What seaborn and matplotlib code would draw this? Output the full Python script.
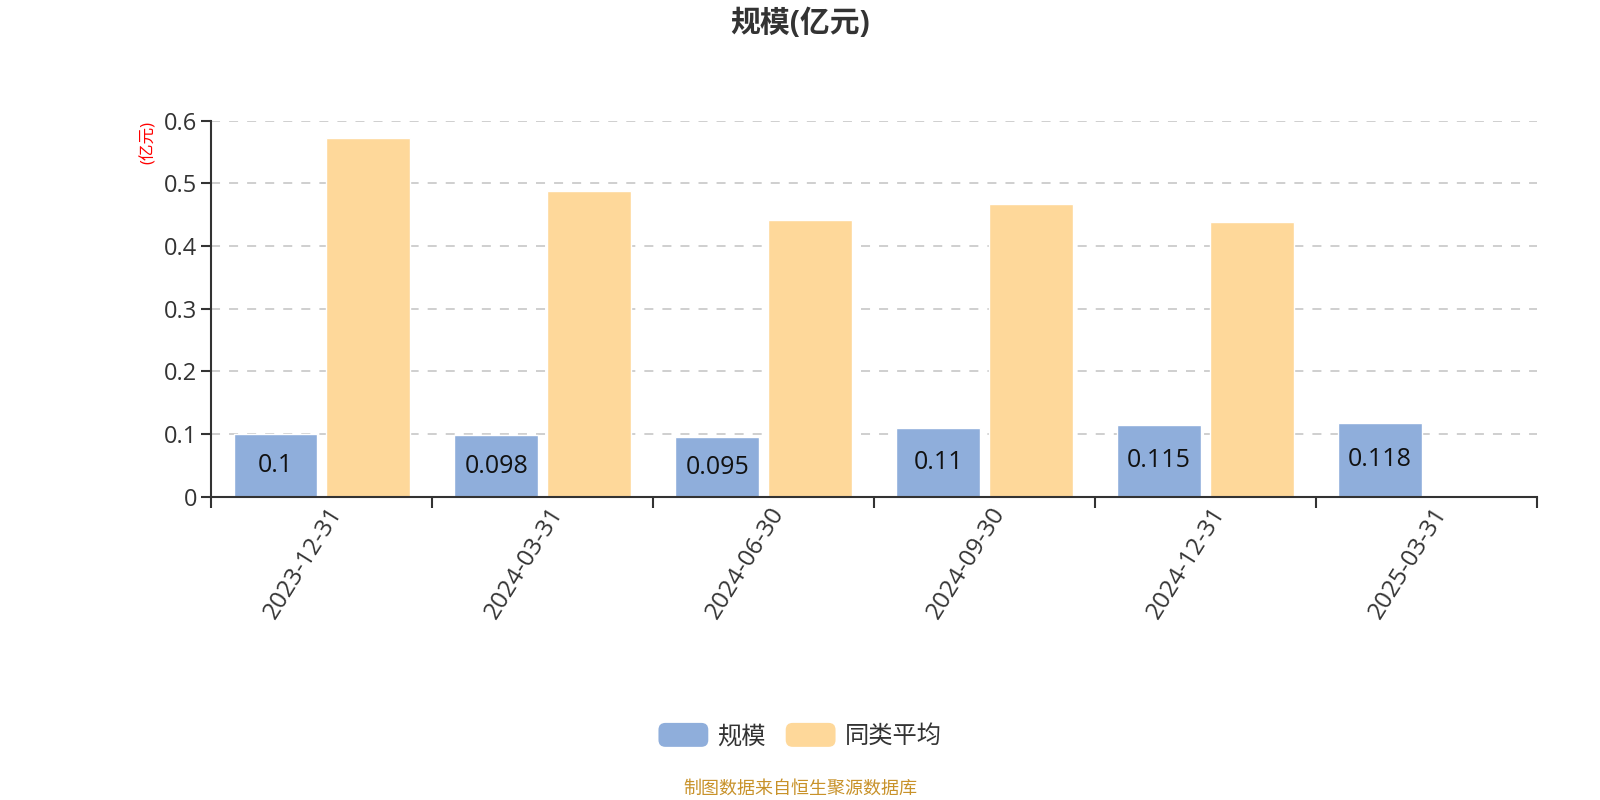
import matplotlib
matplotlib.use("Agg")
import matplotlib.pyplot as plt
import matplotlib.transforms as mtransforms
import seaborn as sns
import pandas as pd
import numpy as np
from matplotlib.patches import FancyBboxPatch, Patch
from matplotlib.legend_handler import HandlerPatch
from matplotlib.ticker import FuncFormatter, FixedLocator

dates = ["2023-12-31", "2024-03-31", "2024-06-30", "2024-09-30", "2024-12-31", "2025-03-31"]
scale = [0.1, 0.098, 0.095, 0.11, 0.115, 0.118]
peer_avg = [0.572, 0.488, 0.441, 0.468, 0.439, np.nan]
series_names = ["规模", "同类平均"]
colors = ["#8FAEDB", "#FED89A"]

sns.set_theme(style="white")
plt.rcParams["font.family"] = ["Open Sans", "Noto Sans CJK SC", "DejaVu Sans"]

df = pd.DataFrame({
    "date": dates * 2,
    "series": [series_names[0]] * len(dates) + [series_names[1]] * len(dates),
    "value": scale + peer_avg,
})

fig = plt.figure(figsize=(16, 8), dpi=100)
ax = fig.add_axes([0.132, 0.379, 0.8286, 0.470])

sns.barplot(data=df, x="date", y="value", hue="series", order=dates,
            hue_order=series_names, palette=colors, width=0.84, gap=0.1,
            saturation=1, legend=False, ax=ax, errorbar=None)

ax.set_ylim(0, 0.6)
ax.set_xlim(-0.5, len(dates) - 0.5)
ax.set_xlabel("")
ax.set_ylabel("")
ax.yaxis.set_major_formatter(FuncFormatter(lambda v, p: f"{v:g}"))
ax.set_yticks([0, 0.1, 0.2, 0.3, 0.4, 0.5, 0.6])
ax.grid(axis="y", linestyle=(0, (5, 5)), color="#CCCCCC", linewidth=1.3)
ax.set_axisbelow(True)

for s in ["top", "right"]:
    ax.spines[s].set_visible(False)
for s in ["left", "bottom"]:
    ax.spines[s].set_color("#333333")
    ax.spines[s].set_linewidth(1.5)

ax.tick_params(axis="y", which="major", left=True, length=7, width=1.5,
               color="#333333", labelsize=17, labelcolor="#333333", pad=3)
ax.tick_params(axis="x", which="major", bottom=False, length=0,
               labelsize=17.5, labelcolor="#333333", pad=9)
ax.xaxis.set_minor_locator(FixedLocator(np.arange(-0.5, len(dates), 1.0)))
ax.tick_params(axis="x", which="minor", bottom=True, length=8, width=1.5,
               color="#333333")
shift = mtransforms.ScaledTranslation(0.15, 0.0, fig.dpi_scale_trans)
for lab in ax.get_xticklabels():
    lab.set_rotation(58)
    lab.set_ha("right")
    lab.set_va("center")
    lab.set_rotation_mode("anchor")
    lab.set_transform(lab.get_transform() + shift)

ax.bar_label(ax.containers[0], labels=[f"{v:g}" for v in scale],
             label_type="center", fontsize=18, color="#111111")

fig.text(0.5, 1 - 23.5 / 800, "规模(亿元)", ha="center", va="center",
         fontsize=21.5, fontweight="bold", color="#333333")
fig.text(148.5 / 1600, 1 - 142 / 800, "(亿元)", ha="center", va="center",
         rotation=90, fontsize=12, color="#FF0000")
fig.text(0.5, 1 - 789 / 800, "制图数据来自恒生聚源数据库", ha="center",
         va="center", fontsize=13, color="#C8922A")


class RoundHandler(HandlerPatch):
    def create_artists(self, legend, orig_handle, xdescent, ydescent,
                       width, height, fontsize, trans):
        p = FancyBboxPatch((-xdescent, -ydescent), width, height,
                           boxstyle="round,pad=0,rounding_size=5",
                           facecolor=orig_handle.get_facecolor(),
                           edgecolor="none", transform=trans)
        return [p]


handles = [Patch(facecolor=c, label=n) for c, n in zip(colors, series_names)]
fig.legend(handles=handles, loc="center", bbox_to_anchor=(0.5, 1 - 736 / 800),
           ncol=2, frameon=False, fontsize=17.5, handlelength=2.05,
           handleheight=1.14, handletextpad=0.37, columnspacing=0.82,
           handler_map={Patch: RoundHandler()}, labelcolor="#333333")

fig.savefig("out.png", dpi=100)
